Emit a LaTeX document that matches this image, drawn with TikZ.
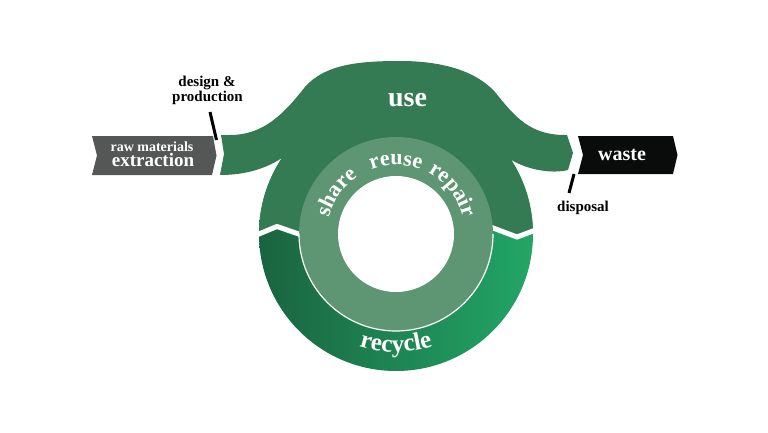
\documentclass[tikz,border=0pt]{standalone}
\usepackage{fontspec}
\setmainfont{Liberation Serif}
\usetikzlibrary{decorations.text}
\definecolor{usegreen}{RGB}{52,123,83}
\definecolor{ringgreen}{RGB}{94,150,116}
\definecolor{recdark}{RGB}{26,100,64}
\definecolor{recbright}{RGB}{34,166,102}
\definecolor{boxgray}{RGB}{85,86,86}
\definecolor{boxblack}{RGB}{10,12,11}
\begin{document}
\begin{tikzpicture}[x=1pt,y=1pt,
  lbl/.style={inner sep=0pt, anchor=base, font=\bfseries},
  wlbl/.style={lbl, text=white},
  tick/.style={line width=3pt, black},
  gap/.style={white, line width=5pt},
  arctext/.style={decorate, decoration={text along path, text={|\bfseries\fontsize{#1}{#1}\selectfont|}, text color=white, text align=center}}
]
\useasboundingbox (0,0) rectangle (768,432);
\fill[white] (0,0) rectangle (768,432);
\coordinate (C) at (396,198);

% recycle ring
\shade[left color=recdark, right color=recbright] (C) circle (137);

% use shape
\fill[usegreen] (221,297) -- (230,297)
  .. controls (265,297) and (285,320) .. (305,345)
  .. controls (325,368) and (360,371) .. (400,371)
  .. controls (440,371) and (475,362) .. (495,340)
  .. controls (515,315) and (530,297) .. (565,297)
  -- (567,297) -- (573,279) -- (568,262)
  .. controls (552,258) and (528,262) .. (511.1,272.2)
  arc[start angle=32.8, end angle=1.3, radius=137]
  -- (517,195) -- (493,204) -- (300,197.5) -- (277,205.5) -- (259,198)
  arc[start angle=180, end angle=146.3, radius=137]
  .. controls (265,263) and (245,257) .. (220,257)
  -- (224,278) -- cycle;

% white chevron gaps
\draw[gap] (254,196) -- (277,205.5) -- (303,196.5);
\draw[gap] (488,205.9) -- (517,195) -- (538,202.9);

% inner ring
\fill[ringgreen] (C) circle (97);
\fill[white] (C) circle (58);
\draw[white, line width=1.2pt] (C) ++(180:97) arc[start angle=180, end angle=360, radius=97];

% boxes
\fill[boxgray] (92,296) -- (213,296) -- (216.5,276.5) -- (212,257) -- (92,257) -- (97,276.5) -- cycle;
\fill[boxblack] (578,296) -- (673,296) -- (677.5,277) -- (673,258) -- (578,258) -- (583,277) -- cycle;

% labels
\node[wlbl, font=\bfseries\fontsize{14}{14}\selectfont] (raw) at (152,281) {raw materials};
\node[wlbl, font=\bfseries\fontsize{19}{19}\selectfont] (extr) at (153,265.3) {extraction};
\node[wlbl, font=\bfseries\fontsize{28}{28}\selectfont] (use) at (407.5,325.3) {use};
\node[wlbl, font=\bfseries\fontsize{20}{20}\selectfont] (waste) at (622,272) {waste};
\node[lbl, font=\bfseries\fontsize{15}{15}\selectfont] (design) at (207,345.3) {design \&};
\node[lbl, font=\bfseries\fontsize{15}{15}\selectfont] (prod) at (207.5,330.3) {production};
\node[lbl, font=\bfseries\fontsize{15}{15}\selectfont] (disp) at (583,220.3) {disposal};

% ticks
\coordinate (d1) at (210,320);
\coordinate (d2) at (216.5,292);
\draw[tick] (d1) -- (d2);
\coordinate (p1) at (574,258);
\coordinate (p2) at (569,239);
\draw[tick] (p1) -- (p2);

% curved texts
\path[decorate, decoration={text along path, text={|\bfseries\fontsize{22}{22}\selectfont|share}, text color=white, text align=center}]
  (C) ++(185:69) arc[start angle=185, end angle=105, radius=69];
\path[decorate, decoration={text along path, text={|\bfseries\fontsize{22}{22}\selectfont|reuse}, text color=white, text align=center}]
  (C) ++(130:69) arc[start angle=130, end angle=50, radius=69];
\path[decorate, decoration={text along path, text={|\bfseries\fontsize{22}{22}\selectfont|repair}, text color=white, text align=center}]
  (C) ++(78:69) arc[start angle=78, end angle=-2, radius=69];
\path[decorate, decoration={text along path, text={|\bfseries\fontsize{25}{25}\selectfont|recycle}, text color=white, text align=center}]
  (C) ++(225:118) arc[start angle=225, end angle=315, radius=118];
\end{tikzpicture}
\end{document}
